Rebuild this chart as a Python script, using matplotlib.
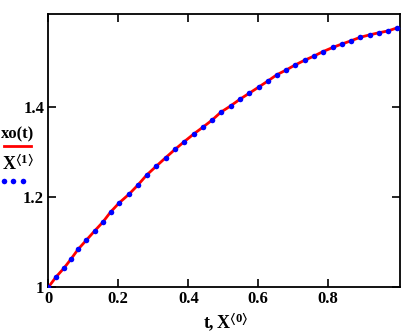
import numpy as np
import matplotlib
matplotlib.use("Agg")
import matplotlib.pyplot as plt

plt.rcParams['font.family'] = ['Liberation Serif', 'DejaVu Serif']
plt.rcParams['font.weight'] = 'bold'
plt.rcParams['mathtext.fontset'] = 'custom'
plt.rcParams['mathtext.rm'] = 'Liberation Serif:bold'
plt.rcParams['mathtext.it'] = 'Liberation Serif:bold'
plt.rcParams['mathtext.bf'] = 'Liberation Serif:bold'
plt.rcParams['mathtext.fallback'] = 'stix'

# X<0> column (t) and X<1> column (solution values)
t = [0.0, 0.022, 0.045, 0.065, 0.085, 0.109, 0.133, 0.156, 0.178, 0.202,
     0.231, 0.256, 0.281, 0.308, 0.335, 0.362, 0.388, 0.416, 0.442, 0.468,
     0.493, 0.521, 0.548, 0.574, 0.601, 0.627, 0.653, 0.679, 0.706, 0.733,
     0.758, 0.784, 0.813, 0.838, 0.864, 0.891, 0.918, 0.944, 0.970, 0.997]
X1 = [1.0, 1.0228, 1.0427, 1.0627, 1.0841, 1.1047, 1.1254, 1.1446, 1.1668, 1.1867,
      1.2066, 1.2266, 1.2487, 1.268, 1.287, 1.3056, 1.3225, 1.340, 1.355, 1.3705,
      1.388, 1.402, 1.417, 1.430, 1.4436, 1.457, 1.471, 1.4813, 1.493, 1.5034,
      1.512, 1.522, 1.5316, 1.5389, 1.546, 1.554, 1.5594, 1.564, 1.568, 1.575]

xticks = [0, 0.2, 0.4, 0.6, 0.8]
xlabels = ['0', '0.2', '0.4', '0.6', '0.8']
yticks = [1, 1.2, 1.4]
ylabels = ['1', '1.2', '1.4']

fig = plt.figure(figsize=(4.17, 3.32), dpi=100)
ax = fig.add_axes([0.1158, 0.1346, 0.9592 - 0.1158, 0.9569 - 0.1346])

# xo(t): continuous curve through the solution
ax.plot(t, X1, color='red', lw=2, solid_capstyle='butt', zorder=2)
# X<1>: the points themselves
ax.plot(t, X1, linestyle='none', marker='o', ms=4, color='blue',
        markeredgewidth=0, zorder=3)

ax.set_xlim(0, 1.005)
ax.set_ylim(1, 1.605)
ax.set_xticks(xticks)
ax.set_xticklabels(xlabels)
ax.set_yticks(yticks)
ax.set_yticklabels(ylabels)
ax.tick_params(direction='in', length=6, width=1.2, top=True, right=True,
               labelsize=12, pad=3, colors='black')
for lbl in ax.get_xticklabels() + ax.get_yticklabels():
    lbl.set_fontweight('bold')
for s in ax.spines.values():
    s.set_linewidth(1.3)

# axis labels in the left margin and below
fig.text(0.043, 0.594, 'xo(t)', fontsize=12, fontweight='bold', ha='center', va='center')
fig.add_artist(plt.Line2D([0.010, 0.074], [0.560, 0.560], color='red', lw=2))
fig.text(0.043, 0.505, r'$\mathrm{X}^{\langle 1\rangle}$', fontsize=13,
         ha='center', va='center')
fig.add_artist(plt.Line2D([0.010, 0.032, 0.055], [0.456, 0.456, 0.456],
                          linestyle='none', marker='o', ms=4, color='blue',
                          markeredgewidth=0))
fig.text(0.542, 0.030, r'$\mathrm{t, X}^{\langle 0\rangle}$', fontsize=13,
         ha='center', va='center')

fig.savefig('out.png', dpi=100)
